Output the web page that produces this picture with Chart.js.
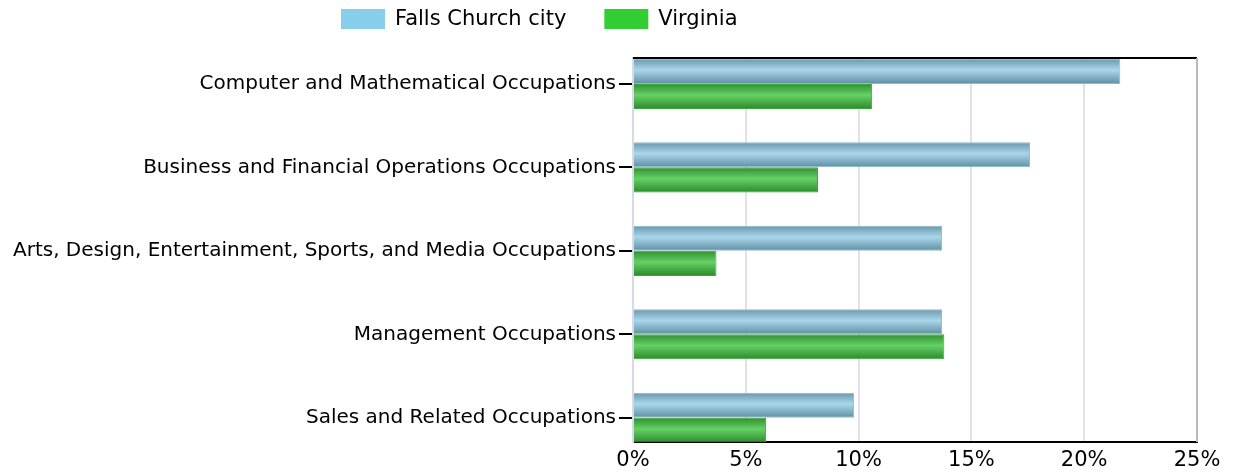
<!DOCTYPE html>
<html>
<head>
<meta charset="utf-8">
<script src="https://cdn.jsdelivr.net/npm/chart.js@4"></script>
<style>
  html, body { margin: 0; padding: 0; background: #fff; }
  #wrap { width: 1233px; height: 475px; }
</style>
</head>
<body>
<div id="wrap"><canvas id="myChart"></canvas></div>
<script>
const categories = [
  "Computer and Mathematical Occupations",
  "Business and Financial Operations Occupations",
  "Arts, Design, Entertainment, Sports, and Media Occupations",
  "Management Occupations",
  "Sales and Related Occupations"
];
const fallsChurch = [21.6, 17.6, 13.7, 13.7, 9.8];
const virginia = [10.6, 8.2, 3.7, 13.8, 5.9];
const xTicks = [0, 5, 10, 15, 20, 25];
const seriesNames = ["Falls Church city", "Virginia"];
const seriesColors = ["#87ceeb", "#32cd32"];

const CAT_PCT = 0.6;

// index axis is linear so the first/last bars sit a bit in from the frame
const toPoints = arr => arr.map((v, i) => ({ x: v, y: i }));

// vertical gradient for each bar, worked out from the y scale
function barGradient(top_c, mid, bottom_c, datasetIdx) {
  return function (ctx) {
    const chart = ctx.chart;
    const y = chart.scales.y;
    if (!y || ctx.dataIndex === undefined) return mid;
    const center = y.getPixelForValue(ctx.dataIndex);
    const step = Math.abs(y.getPixelForValue(1) - y.getPixelForValue(0));
    if (!isFinite(center) || !isFinite(step) || step === 0) return mid;
    const thick = step * CAT_PCT / 2;
    const top = datasetIdx === 0 ? center - thick : center;
    const g = chart.ctx.createLinearGradient(0, top, 0, top + thick);
    g.addColorStop(0, top_c);
    g.addColorStop(0.45, mid);
    g.addColorStop(1, bottom_c);
    return g;
  };
}

const framePlugin = {
  id: "frame",
  afterDatasetsDraw(chart) {
    const a = chart.chartArea;
    const c = chart.ctx;
    c.save();
    c.strokeStyle = "#000";
    c.lineWidth = 2;
    c.beginPath();
    c.moveTo(a.left, a.top);
    c.lineTo(a.right, a.top);
    c.stroke();
    c.strokeStyle = "#b8b8c8";
    c.beginPath();
    c.moveTo(a.right, a.top);
    c.lineTo(a.right, a.bottom);
    c.stroke();
    c.restore();
  },
  afterDraw(chart) {
    // legend row above the plot
    const c = chart.ctx;
    c.save();
    c.font = "21px 'DejaVu Sans'";
    c.textBaseline = "middle";
    let x = 341;
    seriesNames.forEach((name, i) => {
      c.fillStyle = seriesColors[i];
      c.fillRect(x, 9, 44, 20);
      c.fillStyle = "#000";
      c.fillText(name, x + 54, 20);
      x += 54 + c.measureText(name).width + 38;
    });
    c.restore();
  }
};

new Chart(document.getElementById("myChart"), {
  type: "bar",
  data: {
    datasets: [{
      label: seriesNames[0],
      data: toPoints(fallsChurch),
      backgroundColor: barGradient("#6a97ad", "#a9d6ea", "#5f8da2", 0),
      borderColor: "#8fb9cb",
      borderWidth: 1,
      categoryPercentage: CAT_PCT,
      barPercentage: 1
    }, {
      label: seriesNames[1],
      data: toPoints(virginia),
      backgroundColor: barGradient("#2e902e", "#66d066", "#2a8a2a", 1),
      borderColor: "#3aa83a",
      borderWidth: 1,
      categoryPercentage: CAT_PCT,
      barPercentage: 1
    }]
  },
  options: {
    indexAxis: "y",
    responsive: true,
    maintainAspectRatio: false,
    animation: false,
    layout: { padding: { left: 0, right: 36, top: 58, bottom: 0 } },
    plugins: {
      tooltip: { enabled: false },
      legend: { display: false }
    },
    scales: {
      x: {
        type: "linear",
        min: 0,
        max: 25,
        afterBuildTicks(axis) {
          axis.ticks = xTicks.map(v => ({ value: v }));
        },
        afterFit(axis) { axis.height = 33; },
        ticks: {
          color: "#000",
          font: { family: "DejaVu Sans", size: 21 },
          callback: v => v + "%",
          padding: 6
        },
        grid: { color: "#e0e0f0", lineWidth: 2, drawTicks: false },
        border: { color: "#000", width: 2 }
      },
      y: {
        type: "linear",
        reverse: true,
        offset: false,
        min: -0.31,
        max: 4.29,
        afterBuildTicks(axis) {
          axis.ticks = categories.map((c, i) => ({ value: i }));
        },
        afterFit(axis) { axis.width = 633; },
        ticks: {
          color: "#000",
          font: { family: "DejaVu Sans", size: 20 },
          padding: 3,
          callback: v => categories[v]
        },
        grid: {
          offset: false,
          drawOnChartArea: false,
          color: "#000",
          lineWidth: 2,
          tickLength: 14
        },
        border: { color: "#d8d8e8", width: 2 }
      }
    }
  },
  plugins: [framePlugin]
});
</script>
</body>
</html>
